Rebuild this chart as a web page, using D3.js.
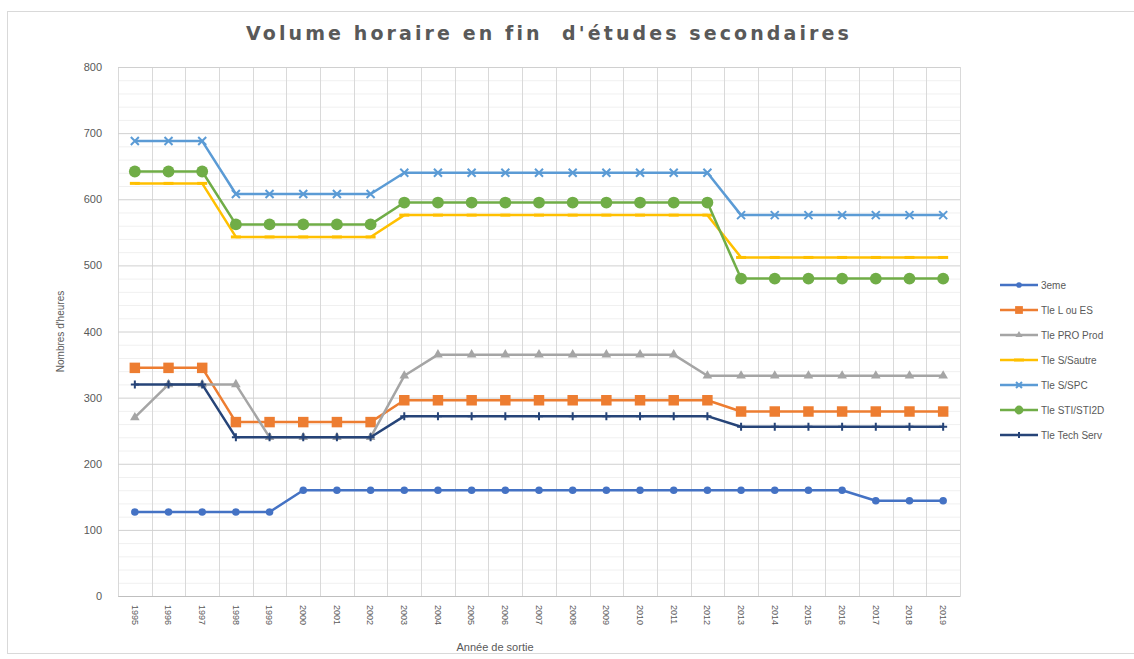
<!DOCTYPE html>
<html>
<head>
<meta charset="utf-8">
<script src="https://d3js.org/d3.v7.min.js"></script>
<style>
  body { margin: 0; background: #fff; }
  svg text { font-family: "Liberation Sans", Arial, sans-serif; fill: #595959; }
</style>
</head>
<body>
<div id="chart"></div>
<script>
// data
var years = ["1995","1996","1997","1998","1999","2000","2001","2002","2003","2004","2005","2006",
             "2007","2008","2009","2010","2011","2012","2013","2014","2015","2016","2017","2018","2019"];

var troisieme = [127,127,127,127,127,160,160,160,160,160,160,160,160,160,160,160,160,160,160,160,160,160,144,144,144];
var tleLES    = [345,345,345,263,263,263,263,263,296,296,296,296,296,296,296,296,296,296,279,279,279,279,279,279,279];
var tlePro    = [270,320,320,320,240,240,240,240,333,365,365,365,365,365,365,365,365,333,333,333,333,333,333,333,333];
var tleSautre = [624,624,624,543,543,543,543,543,576,576,576,576,576,576,576,576,576,576,512,512,512,512,512,512,512];
var tleSPC    = [688,688,688,608,608,608,608,608,640,640,640,640,640,640,640,640,640,640,576,576,576,576,576,576,576];
var tleSTI    = [642,642,642,562,562,562,562,562,595,595,595,595,595,595,595,595,595,595,480,480,480,480,480,480,480];
var tleTech   = [320,320,320,240,240,240,240,240,272,272,272,272,272,272,272,272,272,272,256,256,256,256,256,256,256];

var seriesNames = ["3eme","Tle L ou ES","Tle PRO Prod","Tle S/Sautre","Tle S/SPC","Tle STI/STI2D","Tle Tech Serv"];
var yTicks = [0,100,200,300,400,500,600,700,800];

var series = [
  {name: seriesNames[0], values: troisieme, color: "#4472C4", marker: "circle", size: 45},
  {name: seriesNames[1], values: tleLES,    color: "#ED7D31", marker: "square", size: 110},
  {name: seriesNames[2], values: tlePro,    color: "#A5A5A5", marker: "triangle", size: 40},
  {name: seriesNames[3], values: tleSautre, color: "#FFC000", marker: "dash", size: 0},
  {name: seriesNames[4], values: tleSPC,    color: "#5B9BD5", marker: "x", size: 0},
  {name: seriesNames[5], values: tleSTI,    color: "#70AD47", marker: "circle", size: 110},
  {name: seriesNames[6], values: tleTech,   color: "#264478", marker: "plus", size: 0}
];

var W = 1134, H = 659;
var margin = {top: 67, right: 174, bottom: 63, left: 118},
    width = W - margin.left - margin.right,
    height = H - margin.top - margin.bottom;

var svg = d3.select("#chart")
  .append("svg")
    .attr("width", W)
    .attr("height", H);

// outer frame
svg.append("rect")
  .attr("x", 7.5).attr("y", 11.5)
  .attr("width", W + 10).attr("height", 642)
  .attr("fill", "#fff")
  .attr("stroke", "#d9d9d9");

// title
svg.append("text")
  .attr("x", 549).attr("y", 40)
  .attr("text-anchor", "middle")
  .style("font-family", "'DejaVu Sans', Verdana, sans-serif")
  .style("font-size", "19px")
  .style("font-weight", "bold")
  .style("letter-spacing", "3.1px")
  .style("white-space", "pre")
  .text("Volume horaire en fin  d'études secondaires");

var g = svg.append("g")
  .attr("transform", "translate(" + margin.left + "," + margin.top + ")");

var x = d3.scaleBand()
  .domain(years)
  .range([0, width]);

var y = d3.scaleLinear()
  .domain([0, 800])
  .range([height, 0]);

// minor horizontal grid
g.append("g")
  .selectAll("line")
  .data(d3.range(0, 801, 20).filter(function(v) { return v % 100 != 0; }))
  .join("line")
    .attr("x1", 0).attr("x2", width)
    .attr("y1", function(d) { return y(d) + 0.5; })
    .attr("y2", function(d) { return y(d) + 0.5; })
    .attr("stroke", "#f0f0f0");

// vertical grid at category boundaries
g.append("g")
  .selectAll("line")
  .data(years)
  .join("line")
    .attr("x1", function(d) { return Math.round(x(d)) + 0.5; })
    .attr("x2", function(d) { return Math.round(x(d)) + 0.5; })
    .attr("y1", 0).attr("y2", height)
    .attr("stroke", "#d9d9d9");
g.append("line")
  .attr("x1", width + 0.5).attr("x2", width + 0.5)
  .attr("y1", 0).attr("y2", height)
  .attr("stroke", "#d9d9d9");

// major horizontal grid
g.append("g")
  .call(d3.axisLeft(y).tickValues(yTicks).tickSize(-width).tickPadding(16))
  .call(function(a) {
    a.select(".domain").remove();
    a.selectAll(".tick line").attr("stroke", "#d0d0d0");
    a.selectAll(".tick text").style("font-size", "11px").attr("fill", "#595959");
  });

// x axis
g.append("g")
  .attr("transform", "translate(0," + height + ")")
  .call(d3.axisBottom(x).tickSize(0).tickPadding(0))
  .call(function(a) {
    a.select(".domain").attr("stroke", "#bfbfbf");
    a.selectAll(".tick text")
      .style("font-size", "9px")
      .attr("fill", "#595959")
      .attr("text-anchor", "start")
      .attr("dy", "0.35em")
      .attr("transform", "translate(0,9) rotate(90)");
  });

// axis titles
svg.append("text")
  .attr("transform", "translate(64," + (margin.top + height / 2) + ") rotate(-90)")
  .attr("text-anchor", "middle")
  .style("font-size", "10px")
  .text("Nombres d'heures");

svg.append("text")
  .attr("x", 495).attr("y", 651)
  .attr("text-anchor", "middle")
  .style("font-size", "11px")
  .text("Année de sortie");

function cx(i) { return x(years[i]) + x.bandwidth() / 2; }

var line = d3.line()
  .x(function(d, i) { return cx(i); })
  .y(function(d) { return y(d); });

function drawMarker(sel, s, px, py, k) {
  k = k || 1;
  if (s.marker == "circle" || s.marker == "square" || s.marker == "triangle") {
    var sym = s.marker == "circle" ? d3.symbolCircle : (s.marker == "square" ? d3.symbolSquare : d3.symbolTriangle);
    sel.append("path").attr("d", d3.symbol(sym, s.size * k)())
      .attr("transform", "translate(" + px + "," + py + ")")
      .attr("fill", s.color);
  } else if (s.marker == "dash") {
    sel.append("line").attr("x1", px - 5).attr("x2", px + 5).attr("y1", py).attr("y2", py)
      .attr("stroke", s.color).attr("stroke-width", 3);
  } else if (s.marker == "x") {
    var r = 4 * Math.sqrt(k);
    sel.append("path").attr("d", "M" + -r + "," + -r + "L" + r + "," + r + "M" + -r + "," + r + "L" + r + "," + -r)
      .attr("transform", "translate(" + px + "," + py + ")")
      .attr("stroke", s.color).attr("stroke-width", 2);
  } else if (s.marker == "plus") {
    var p = 4 * Math.sqrt(k);
    sel.append("path").attr("d", "M" + -p + ",0L" + p + ",0M0," + -p + "L0," + p)
      .attr("transform", "translate(" + px + "," + py + ")")
      .attr("stroke", s.color).attr("stroke-width", 2);
  }
}

series.forEach(function(s) {
  var sg = g.append("g");
  sg.append("path")
    .datum(s.values)
    .attr("fill", "none")
    .attr("stroke", s.color)
    .attr("stroke-width", 2.5)
    .attr("stroke-linejoin", "round")
    .attr("d", line);
  s.values.forEach(function(v, i) {
    drawMarker(sg, s, cx(i), y(v));
  });
});

// legend
var legend = svg.append("g");
series.forEach(function(s, i) {
  var ly = 285 + i * 25;
  var lg = legend.append("g");
  lg.append("line")
    .attr("x1", 1000).attr("x2", 1038)
    .attr("y1", ly).attr("y2", ly)
    .attr("stroke", s.color).attr("stroke-width", 2.5);
  drawMarker(lg, s, 1019, ly, 0.55);
  lg.append("text")
    .attr("x", 1041).attr("y", ly)
    .attr("dy", "0.35em")
    .style("font-size", "10px")
    .text(s.name);
});
</script>
</body>
</html>
